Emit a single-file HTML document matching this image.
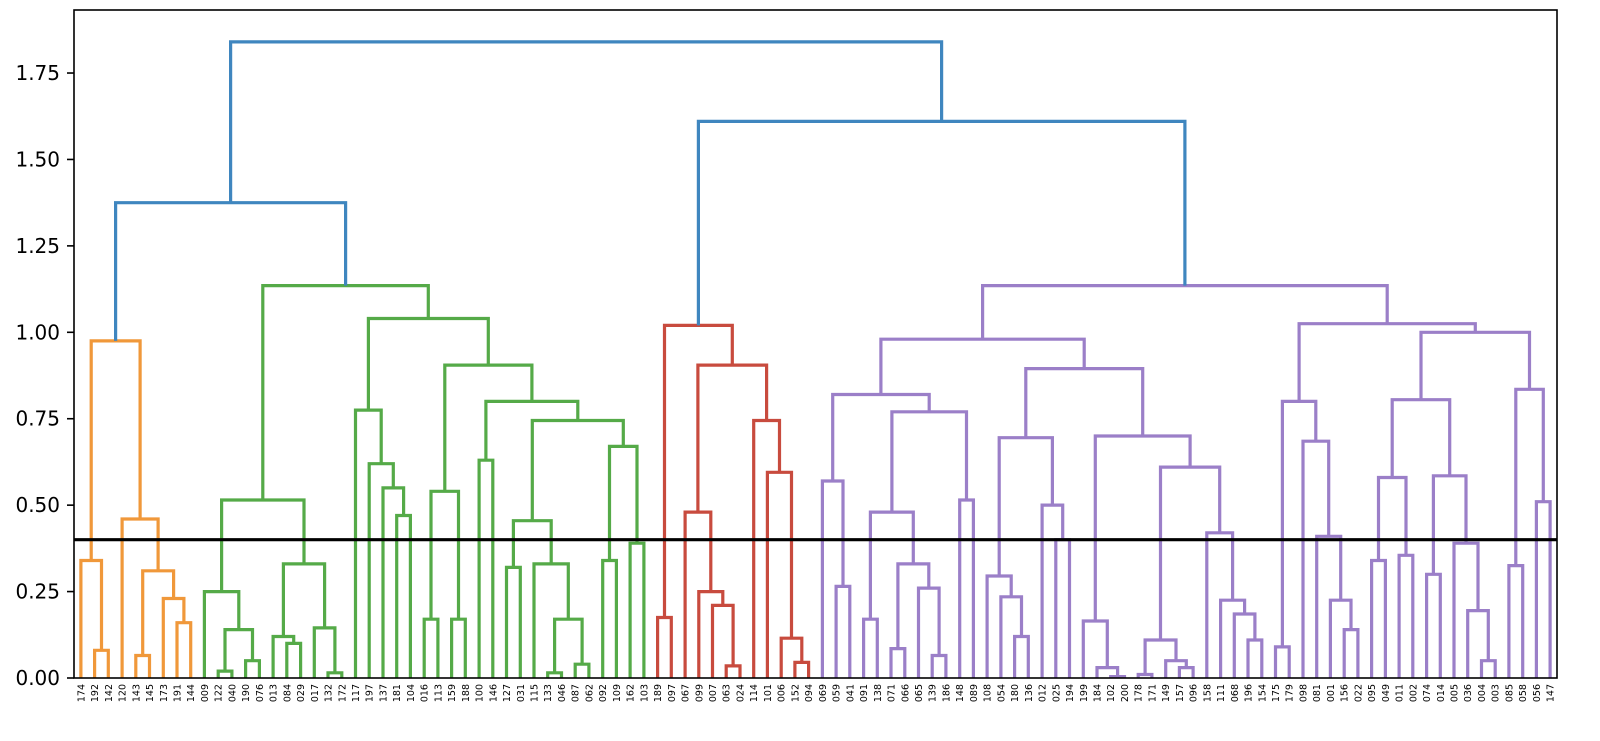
<!DOCTYPE html>
<html><head><meta charset="utf-8"><style>
html,body{margin:0;padding:0;background:#fff;}
svg{display:block;font-family:"DejaVu Sans","Liberation Sans",sans-serif;}
</style></head><body>
<svg id="s" width="1600" height="741" viewBox="0 0 1600 741" xmlns="http://www.w3.org/2000/svg">
<rect x="0" y="0" width="1600" height="741" fill="#fff"/>
<g id="links" fill="none" stroke-width="3.2" stroke-linejoin="miter"></g>
<line x1="74" y1="539.7" x2="1557" y2="539.7" stroke="#000" stroke-width="3.2"/>
<rect x="74" y="10" width="1483" height="668" fill="none" stroke="#000" stroke-width="1.6"/>
<g id="ticks" font-size="20" fill="#000"></g>
<g id="labels" font-size="9.5" fill="#000"></g>
</svg>
<script>
var names="174 192 142 120 143 145 173 191 144 009 122 040 190 076 013 084 029 017 132 172 117 197 137 181 104 016 113 159 188 100 146 127 031 115 133 046 087 062 092 109 162 103 189 097 067 099 007 063 024 114 101 006 152 094 069 059 041 091 138 071 066 065 139 186 148 089 108 054 180 136 012 025 194 199 184 102 200 178 171 149 157 096 158 111 068 196 154 175 179 098 081 001 156 022 095 049 011 002 074 014 005 036 004 003 085 058 056 147".split(" ");
var X0=74,W=1483,N=108,SP=W/N,Y0=678,K=345.7;
function lx(i){return X0+SP*(i+0.5);}
function yy(h){return Y0-h*K;}
var O="#f0983a",G="#55aa48",R="#c84b3e",P="#9b7fc8",B="#3f86bf";
function n(h,a,b,c){return {h:h,a:a,b:b,c:c};}
var orange=n(0.975,n(0.34,0,n(0.08,1,2)),n(0.46,3,n(0.31,n(0.065,4,5),n(0.23,6,n(0.16,7,8)))),O);
var gA=n(0.515,n(0.25,9,n(0.14,n(0.02,10,11),n(0.05,12,13))),n(0.33,n(0.12,14,n(0.10,15,16)),n(0.145,17,n(0.015,18,19))));
var g775=n(0.775,20,n(0.62,21,n(0.55,22,n(0.47,23,24))));
var g54=n(0.54,n(0.17,25,26),n(0.17,27,28));
var g455=n(0.455,n(0.32,31,32),n(0.33,33,n(0.17,n(0.015,34,35),n(0.04,36,37))));
var g745=n(0.745,g455,n(0.67,n(0.34,38,39),n(0.39,40,41)));
var g80=n(0.80,n(0.63,29,30),g745);
var green=n(1.135,gA,n(1.04,g775,n(0.905,g54,g80)),G);
var red=n(1.02,n(0.175,42,43),n(0.905,n(0.48,44,n(0.25,45,n(0.21,46,n(0.035,47,48)))),n(0.745,49,n(0.595,50,n(0.115,51,n(0.045,52,53))))),R);
var p82=n(0.82,n(0.57,54,n(0.265,55,56)),n(0.77,n(0.48,n(0.17,57,58),n(0.33,n(0.085,59,60),n(0.26,61,n(0.065,62,63)))),n(0.515,64,65)));
var p695=n(0.695,n(0.295,66,n(0.235,67,n(0.12,68,69))),n(0.50,70,n(0.40,71,72)));
var p70=n(0.70,n(0.165,73,n(0.03,74,n(0.004,75,76))),n(0.61,n(0.11,n(0.01,77,78),n(0.05,79,n(0.03,80,81))),n(0.42,82,n(0.225,83,n(0.185,84,n(0.11,85,86))))));
var p98=n(0.98,p82,n(0.895,p695,p70));
var p80=n(0.80,n(0.09,87,88),n(0.685,89,n(0.41,90,n(0.225,91,n(0.14,92,93)))));
var p805=n(0.805,n(0.58,n(0.34,94,95),n(0.355,96,97)),n(0.585,n(0.30,98,99),n(0.39,100,n(0.195,101,n(0.05,102,103)))));
var p100=n(1.00,p805,n(0.835,n(0.325,104,105),n(0.51,106,107)));
var purple=n(1.135,p98,n(1.025,p80,p100),P);
var root=n(1.84,n(1.375,orange,green),n(1.61,red,purple),B);
var out="";
function draw(nd,col){
  if(typeof nd==="number")return {x:lx(nd),h:0};
  var c=nd.c||col;
  var L=draw(nd.a,c),Rr=draw(nd.b,c);
  var x=(L.x+Rr.x)/2;
  out+='<path stroke="'+c+'" d="M'+L.x.toFixed(1)+' '+yy(L.h).toFixed(1)+'V'+yy(nd.h).toFixed(1)+'H'+Rr.x.toFixed(1)+'V'+yy(Rr.h).toFixed(1)+'"/>';
  return {x:x,h:nd.h};
}
draw(root,B);
document.getElementById("links").innerHTML=out;
var t="";
for(var v=0;v<=1.75001;v+=0.25){
  var y=yy(v);
  t+='<line x1="67" y1="'+y+'" x2="74" y2="'+y+'" stroke="#000" stroke-width="1.6"/>';
  t+='<text x="60" y="'+(y+7)+'" text-anchor="end">'+v.toFixed(2)+'</text>';
}
document.getElementById("ticks").innerHTML=t;
var l="";
for(var i=0;i<N;i++){
  var x=lx(i)+3.5;
  l+='<text x="'+x.toFixed(1)+'" y="684" text-anchor="end" transform="rotate(-90 '+x.toFixed(1)+' 684)">'+names[i]+'</text>';
}
document.getElementById("labels").innerHTML=l;
</script>
</body></html>
